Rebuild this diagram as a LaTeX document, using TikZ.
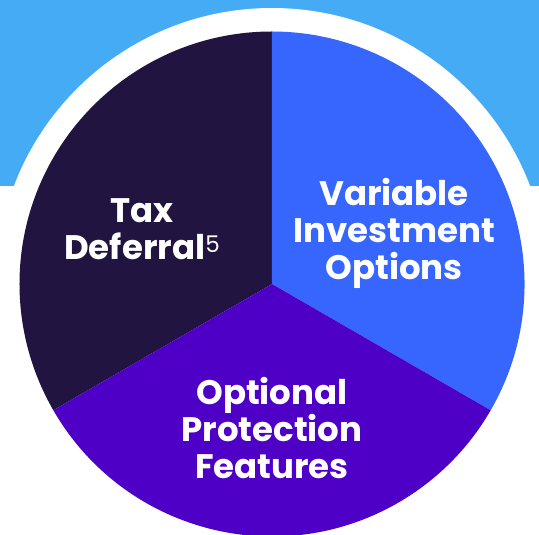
\documentclass[tikz,border=0pt]{standalone}
\usepackage{fontspec}
\setmainfont{Poppins}
\usepackage{xcolor}
\definecolor{skyband}{HTML}{45ABF5}
\definecolor{taxcol}{HTML}{221440}
\definecolor{investcol}{HTML}{3766FF}
\definecolor{protectcol}{HTML}{4F00C6}

\tikzset{
  slicelabel/.style={text=white, align=center, inner sep=0pt,
    font=\fontsize{34}{37}\selectfont\bfseries},
}

\begin{document}
\begin{tikzpicture}[x=1pt, y=1pt]
    \useasboundingbox (-272,-251) rectangle (267,284);
    \clip (-272,-251) rectangle (267,284);
    \fill [white] (-272,-251) rectangle (267,284);
    \fill [skyband] (-272,98) rectangle (267,284);
    % white ring round the pie
    \fill [white] (0,0) circle (276);
    \fill [taxcol] (0,0) -- (90:252.5) arc (90:210:252.5) -- cycle;
    \fill [investcol] (0,0) -- (-30:252.5) arc (-30:90:252.5) -- cycle;
    \fill [protectcol] (0,0) -- (210:252.5) arc (210:330:252.5) -- cycle;
    \node [slicelabel] (tax) at (-130,55) {Tax\\Deferral\raisebox{7pt}{\fontsize{23}{23}\selectfont\mdseries 5}};
    \node [slicelabel] (invest) at (122,51) {Variable\\Investment\\Options};
    \node [slicelabel] (protect) at (0,-144) {Optional\\Protection\\Features};
  \end{tikzpicture}
\end{document}
